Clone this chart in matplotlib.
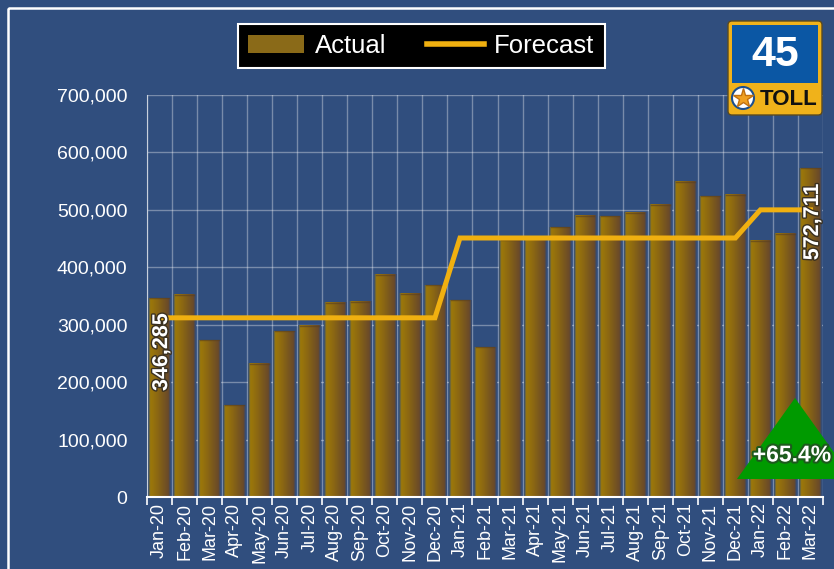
import matplotlib.pyplot as plt
import numpy as np
from matplotlib.patches import Patch, Polygon, FancyBboxPatch, Circle, Rectangle
from matplotlib.lines import Line2D
from matplotlib.colors import to_rgb
import matplotlib.patheffects as pe

months = ["Jan-20", "Feb-20", "Mar-20", "Apr-20", "May-20", "Jun-20", "Jul-20", "Aug-20",
          "Sep-20", "Oct-20", "Nov-20", "Dec-20", "Jan-21", "Feb-21", "Mar-21", "Apr-21",
          "May-21", "Jun-21", "Jul-21", "Aug-21", "Sep-21", "Oct-21", "Nov-21", "Dec-21",
          "Jan-22", "Feb-22", "Mar-22"]
actual = [346285, 352000, 273000, 160000, 232000, 289000, 298000, 338000,
          340000, 387000, 354000, 369000, 343000, 261000, 448000, 451000,
          470000, 490000, 489000, 495000, 509000, 549000, 524000, 526000,
          446000, 458000, 572711]
forecast = [312000] * 12 + [451000] * 12 + [500000] * 3
change_label = "+65.4%"

bg = "#304e7e"
plt.rcParams["font.family"] = ["Liberation Sans", "DejaVu Sans"]

fig = plt.figure(figsize=(8.34, 5.69), dpi=100)
fig.patch.set_facecolor(bg)
ax = fig.add_axes([147 / 834, 1 - 497 / 569, 676 / 834, 402 / 569])
ax.set_facecolor(bg)

# gradient bars
x = np.arange(len(months))
w = 0.9
bgc = np.array(to_rgb(bg))
stops = np.array([to_rgb("#a27e06"), to_rgb("#8c6812"), to_rgb("#62432e")])
n = 60
t = np.linspace(0, 1, n)
cols = np.empty((1, n, 3))
for k in range(3):
    cols[0, :, k] = np.interp(t, [0, 0.4, 1], stops[:, k])
edge = np.clip(np.minimum(t, 1 - t) / 0.1, 0, 1)
cols[0] = cols[0] * edge[:, None] + bgc * (1 - edge[:, None])
for xi, v in zip(x, actual):
    ax.imshow(cols, extent=[xi - w / 2, xi + w / 2, 0, v], aspect="auto",
              interpolation="bilinear", zorder=2)
    ax.plot([xi - w / 2 + 0.08, xi + w / 2 - 0.08], [v, v], color="#5a4020",
            lw=1, alpha=0.6, zorder=2)

ax.plot(x, forecast, color="#f0b010", lw=3.6, zorder=3, solid_joinstyle="miter")

ax.set_xlim(-0.5, len(months) - 0.5)
ax.set_ylim(0, 700000)
ax.set_yticks(np.arange(0, 700001, 100000))
ax.set_yticklabels([f"{v:,}" for v in range(0, 700001, 100000)])
ax.set_xticks(x)
ax.set_xticklabels(months, rotation=90)
ax.set_xticks(np.arange(-0.5, len(months), 1), minor=True)
ax.tick_params(axis="y", length=0, pad=14, labelsize=14, colors="white")
ax.tick_params(axis="x", which="major", length=0, pad=4, labelsize=13, colors="white")
ax.tick_params(axis="x", which="minor", length=6, width=1.2, color="white")
ax.grid(True, which="minor", axis="x", color="white", alpha=0.35, lw=1)
ax.grid(True, which="major", axis="y", color="white", alpha=0.35, lw=1)
ax.set_axisbelow(True)
for s in ["top", "right"]:
    ax.spines[s].set_visible(False)
ax.spines["left"].set_color("#c8d0dc")
ax.spines["bottom"].set_color("white")
ax.spines["bottom"].set_linewidth(1.5)

# data labels on first and last bar
for i in [0, len(months) - 1]:
    ax.annotate(f"{actual[i]:,}", (x[i], actual[i]), xytext=(1.5, -11),
                textcoords="offset points", rotation=90, ha="center", va="top",
                color="white", fontsize=15.5, fontweight="bold", zorder=5,
                path_effects=[pe.withStroke(linewidth=2, foreground="#3a3020")])

handles = [Patch(facecolor="#8a6a18", edgecolor="none", label="Actual"),
           Line2D([0], [0], color="#f0b010", lw=4, label="Forecast")]
leg = fig.legend(handles=handles, loc="center", bbox_to_anchor=(0.505, 0.919), ncol=2,
                 fontsize=18.5, frameon=True, fancybox=False, handlelength=2.2,
                 columnspacing=1.6, handletextpad=0.4, borderpad=0.4)
leg.get_frame().set_facecolor("black")
leg.get_frame().set_edgecolor("white")
leg.get_frame().set_linewidth(1.5)
leg.get_frame().set_alpha(1)
for txt in leg.get_texts():
    txt.set_color("white")

# overlay decorations in pixel space
ov = fig.add_axes([0, 0, 1, 1], zorder=10)
ov.set_xlim(0, 834)
ov.set_ylim(569, 0)
ov.axis("off")
ov.patch.set_alpha(0)
ov.add_patch(Rectangle((8, 8), 900, 700, fill=False, edgecolor="white", lw=1.8))

ov.add_patch(Polygon([[737, 479], [795, 398], [853, 479]], closed=True,
                     facecolor="#009a00", edgecolor="none"))
ov.text(831, 455, change_label, color="white", fontsize=16.5, fontweight="bold",
        ha="right", va="center",
        path_effects=[pe.withStroke(linewidth=3, foreground="#1d5a1d")])

# toll logo
ov.add_patch(FancyBboxPatch((728, 21), 94, 94, boxstyle="round,pad=0,rounding_size=4",
                            facecolor="#f0b21a", edgecolor="#5a4a20", lw=1))
ov.add_patch(Rectangle((732, 25), 86, 58, facecolor="#0b57a4", edgecolor="none"))
ov.text(775, 55, "45", color="white", fontsize=31, fontweight="bold",
        ha="center", va="center")
ov.text(789, 99, "TOLL", color="#111111", fontsize=16, fontweight="bold",
        ha="center", va="center")
ov.add_patch(Circle((743, 98), 11, facecolor="white", edgecolor="#1b4f8f", lw=1.5))
ov.plot(743, 98, marker="*", markersize=15, color="#f0a020", markeredgecolor="#c07010")

plt.savefig("out.png", dpi=100, facecolor=bg)
